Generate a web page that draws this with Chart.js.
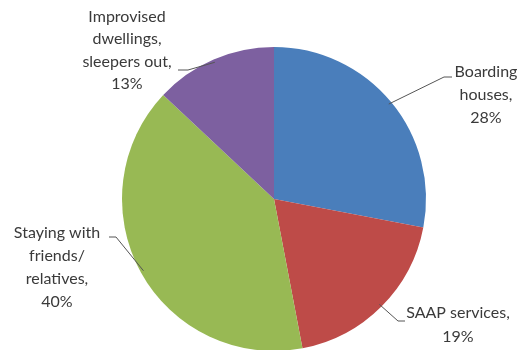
<!DOCTYPE html>
<html>
<head>
<meta charset="utf-8">
<title>Homeless population by accommodation type</title>
<script src="https://cdn.jsdelivr.net/npm/chart.js@4"></script>
<style>
  html, body { margin: 0; padding: 0; background: #fff; overflow: hidden; }
  #wrap { position: relative; width: 525px; height: 360px; }
</style>
</head>
<body>
<div id="wrap"><canvas id="pieChart"></canvas></div>
<script>
// categories and shares (%)
const categories = ['Boarding houses', 'SAAP services', 'Staying with friends/ relatives', 'Improvised dwellings, sleepers out'];
const shares = [28, 19, 40, 13];
const sliceColors = ['#4A7EBB', '#BE4B48', '#98B954', '#7D60A0'];

// how each label is broken into lines
const labelLines = [
  ['Boarding', 'houses,', '28%'],
  ['SAAP services,', '19%'],
  ['Staying with', 'friends/', 'relatives,', '40%'],
  ['Improvised', 'dwellings,', 'sleepers out,', '13%']
];

// label placement: text centre x, line centres y, leader start and elbow
const labelLayout = [
  { x: 486, ys: [72, 95, 118], start: [452, 77], elbow: [444, 77] },
  { x: 458, ys: [313, 337], start: [405, 321], elbow: [398, 321] },
  { x: 57, ys: [233, 256, 279, 302], start: [109, 237], elbow: [116, 237] },
  { x: 127, ys: [17, 39, 62, 84], start: [178, 70], elbow: [188, 70] }
];

// draws the outside labels with their leader lines
const leaderLabels = {
  id: 'leaderLabels',
  afterDatasetsDraw(chart) {
    const ctx = chart.ctx;
    const meta = chart.getDatasetMeta(0);
    ctx.save();
    meta.data.forEach((arc, i) => {
      const p = arc.getProps(['x', 'y', 'startAngle', 'endAngle', 'outerRadius'], true);
      const mid = (p.startAngle + p.endAngle) / 2;
      const r = p.outerRadius * 0.98;
      const ex = p.x + Math.cos(mid) * r;
      const ey = p.y + Math.sin(mid) * r;
      const lay = labelLayout[i];

      ctx.strokeStyle = '#555';
      ctx.lineWidth = 1;
      ctx.beginPath();
      ctx.moveTo(lay.start[0], lay.start[1]);
      ctx.lineTo(lay.elbow[0], lay.elbow[1]);
      ctx.lineTo(ex, ey);
      ctx.stroke();

      ctx.fillStyle = '#3a3a3a';
      ctx.font = '16px Lato, "Open Sans", sans-serif';
      ctx.textAlign = 'center';
      ctx.textBaseline = 'middle';
      labelLines[i].forEach((line, j) => ctx.fillText(line, lay.x, lay.ys[j]));
    });
    ctx.restore();
  }
};

new Chart(document.getElementById('pieChart'), {
  type: 'pie',
  data: {
    labels: categories,
    datasets: [{
      data: shares,
      backgroundColor: sliceColors,
      borderWidth: 0
    }]
  },
  options: {
    responsive: true,
    maintainAspectRatio: false,
    animation: false,
    layout: { padding: { top: 47, bottom: 9, left: 122, right: 99 } },
    plugins: {
      legend: { display: false },
      tooltip: { enabled: false }
    }
  },
  plugins: [leaderLabels]
});
</script>
</body>
</html>
